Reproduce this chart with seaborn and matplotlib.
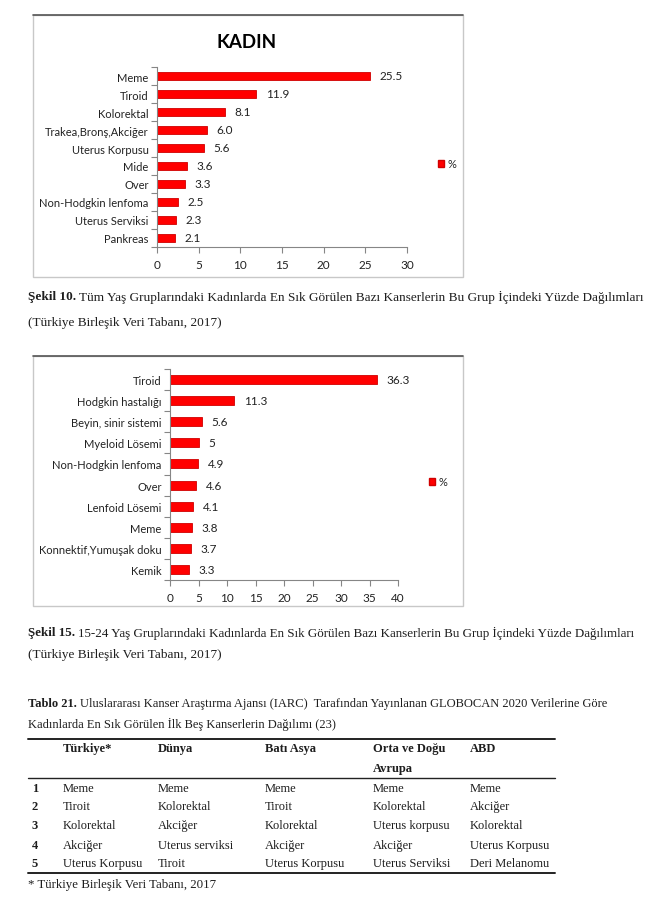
import numpy as np
import pandas as pd
import matplotlib
matplotlib.use("Agg")
import matplotlib.pyplot as plt
import seaborn as sns
from matplotlib.patches import Rectangle, Patch
from matplotlib.lines import Line2D

# Şekil 10 - tüm yaş grupları
kadin_kanser = ['Meme', 'Tiroid', 'Kolorektal', 'Trakea,Bronş,Akciğer', 'Uterus Korpusu',
                'Mide', 'Over', 'Non-Hodgkin lenfoma', 'Uterus Serviksi', 'Pankreas']
kadin_yuzde = [25.5, 11.9, 8.1, 6.0, 5.6, 3.6, 3.3, 2.5, 2.3, 2.1]

# Şekil 15 - 15-24 yaş
genc_kanser = ['Tiroid', 'Hodgkin hastalığı', 'Beyin, sinir sistemi', 'Myeloid Lösemi',
               'Non-Hodgkin lenfoma', 'Over', 'Lenfoid Lösemi', 'Meme',
               'Konnektif,Yumuşak doku', 'Kemik']
genc_yuzde = [36.3, 11.3, 5.6, 5, 4.9, 4.6, 4.1, 3.8, 3.7, 3.3]

# Tablo 21
tablo_basliklar = ['Türkiye*', 'Dünya', 'Batı Asya', 'Orta ve Doğu\nAvrupa', 'ABD']
tablo_sira = ['1', '2', '3', '4', '5']
tablo_turkiye = ['Meme', 'Tiroit', 'Kolorektal', 'Akciğer', 'Uterus Korpusu']
tablo_dunya = ['Meme', 'Kolorektal', 'Akciğer', 'Uterus serviksi', 'Tiroit']
tablo_bati_asya = ['Meme', 'Tiroit', 'Kolorektal', 'Akciğer', 'Uterus Korpusu']
tablo_orta_dogu_avrupa = ['Meme', 'Kolorektal', 'Uterus korpusu', 'Akciğer', 'Uterus Serviksi']
tablo_abd = ['Meme', 'Akciğer', 'Kolorektal', 'Uterus Korpusu', 'Deri Melanomu']

W, H = 670, 903
sns.set_theme(style='white')
plt.rcParams['font.family'] = ['Lato', 'DejaVu Sans']
SERIF = ['Liberation Serif', 'DejaVu Serif']
RED = '#ff0000'
GRAY = '#868686'
TXT = '#1e1e1e'


def px_rect(x0, y0, x1, y1):
    return [x0 / W, 1 - y1 / H, (x1 - x0) / W, (y1 - y0) / H]


def fx(x):
    return x / W


def fy(y):
    return 1 - y / H


def bar_chart(fig, box, axrect, cats, vals, xmax, labels, width, legend_xy, title=None):
    x0, y0, x1, y1 = box
    fig.add_artist(Rectangle((fx(x0), fy(y1)), fx(x1 - x0), (y1 - y0) / H,
                             transform=fig.transFigure, fill=False, ec='#c8c8c8', lw=1))
    fig.add_artist(Line2D([fx(x0), fx(x1)], [fy(y0), fy(y0)], transform=fig.transFigure,
                          color='#555555', lw=1.2))
    ax = fig.add_axes(px_rect(*axrect))
    df = pd.DataFrame({'kanser': cats, 'yuzde': vals})
    sns.barplot(data=df, x='yuzde', y='kanser', orient='h', color=RED, saturation=1,
                width=width, edgecolor='#d00000', linewidth=0.6, ax=ax)
    ax.set_xlim(0, xmax)
    ax.set_ylim(len(cats) - 0.5, -0.5)
    ax.set_xticks(np.arange(0, xmax + 1, 5))
    ax.set_yticks(np.arange(-0.5, len(cats), 1), minor=True)
    ax.set_xlabel('')
    ax.set_ylabel('')
    ax.bar_label(ax.containers[0], labels=labels, padding=7, fontsize=8.5, color='#222222')
    for s in ['top', 'right']:
        ax.spines[s].set_visible(False)
    for s in ['left', 'bottom']:
        ax.spines[s].set_color(GRAY)
        ax.spines[s].set_linewidth(0.8)
    ax.tick_params(axis='y', which='major', length=0, labelsize=8, pad=6, colors='#222222')
    ax.tick_params(axis='y', which='minor', left=True, length=4, width=0.8, color=GRAY)
    ax.tick_params(axis='x', which='major', bottom=True, length=4, width=0.8, color=GRAY,
                   labelsize=8.5, labelcolor='#222222', pad=5)
    ax.set_facecolor('none')
    ax.grid(False)
    fig.legend(handles=[Patch(facecolor=RED, edgecolor='#d00000')], labels=['%'],
               loc='center left', bbox_to_anchor=(fx(legend_xy[0]), fy(legend_xy[1])),
               frameon=False, handlelength=0.6, handleheight=0.6, handletextpad=0.3,
               fontsize=8, borderpad=0)
    if title:
        fig.text(fx(title[1]), fy(title[2]), title[0], ha='center', va='center',
                 fontsize=13.5, fontweight='bold', color='black')
    return ax


def mixed_text(fig, x, y, bold, rest, size):
    r = fig.canvas.get_renderer()
    t = fig.text(fx(x), fy(y), bold, family=SERIF, fontweight='bold', fontsize=size,
                 va='center', ha='left', color=TXT)
    bb = t.get_window_extent(renderer=r)
    fig.text(fx(x) + bb.width / W + fx(3), fy(y), rest,
             family=SERIF, fontsize=size, va='center', ha='left', color=TXT)


def cell(fig, x, y, s, bold=False):
    # y is the row centre in px; baseline sits ~4 px below it
    fig.text(fx(x), fy(y + 4), s, family=SERIF, fontsize=9, va='baseline', ha='left',
             fontweight='bold' if bold else 'normal', color=TXT)


fig = plt.figure(figsize=(W / 100, H / 100), dpi=100)
fig.patch.set_facecolor('white')

bar_chart(fig, (33, 16, 463, 278), (157, 68, 407, 248), kadin_kanser, kadin_yuzde, 30,
          [f'{v:.1f}' for v in kadin_yuzde], 0.4, (432, 165), title=('KADIN', 247, 42))
mixed_text(fig, 28, 297, 'Şekil 10.',
           'Tüm Yaş Gruplarındaki Kadınlarda En Sık Görülen Bazı Kanserlerin Bu Grup İçindeki Yüzde Dağılımları', 9.5)
fig.text(fx(28), fy(323), '(Türkiye Birleşik Veri Tabanı, 2017)', family=SERIF, fontsize=9.5,
         va='center', color=TXT)

bar_chart(fig, (33, 357, 463, 607), (170, 370, 398, 581), genc_kanser, genc_yuzde, 40,
          [f'{v:g}' for v in genc_yuzde], 0.43, (423, 483))
mixed_text(fig, 28, 633, 'Şekil 15.',
           '15-24 Yaş Gruplarındaki Kadınlarda En Sık Görülen Bazı Kanserlerin Bu Grup İçindeki Yüzde Dağılımları', 9.4)
fig.text(fx(28), fy(655), '(Türkiye Birleşik Veri Tabanı, 2017)', family=SERIF, fontsize=9.5,
         va='center', color=TXT)

# tablo
mixed_text(fig, 28, 704, 'Tablo 21.',
           'Uluslararası Kanser Araştırma Ajansı (IARC)  Tarafından Yayınlanan GLOBOCAN 2020 Verilerine Göre', 9)
fig.text(fx(28), fy(724), 'Kadınlarda En Sık Görülen İlk Beş Kanserlerin Dağılımı (23)', family=SERIF,
         fontsize=9, va='center', color=TXT)

col_x = [63, 158, 265, 373, 470]
sutunlar = [tablo_turkiye, tablo_dunya, tablo_bati_asya, tablo_orta_dogu_avrupa, tablo_abd]
for y, lw in [(740, 1.4), (779, 1.0), (874, 1.4)]:
    fig.add_artist(Line2D([fx(28), fx(555)], [fy(y), fy(y)], transform=fig.transFigure,
                          color='#222222', lw=lw))
for x, h in zip(col_x, tablo_basliklar):
    for i, part in enumerate(h.split('\n')):
        cell(fig, x, 748 + 20 * i, part, bold=True)
row_y = [788, 806, 825, 845, 863]
for j, y in enumerate(row_y):
    cell(fig, 32, y, tablo_sira[j], bold=True)
    for x, col in zip(col_x, sutunlar):
        cell(fig, x, y, col[j])
fig.text(fx(28), fy(888), '* Türkiye Birleşik Veri Tabanı, 2017', family=SERIF, fontsize=9.3,
         va='baseline', color=TXT)

fig.savefig('out.png', dpi=100)
